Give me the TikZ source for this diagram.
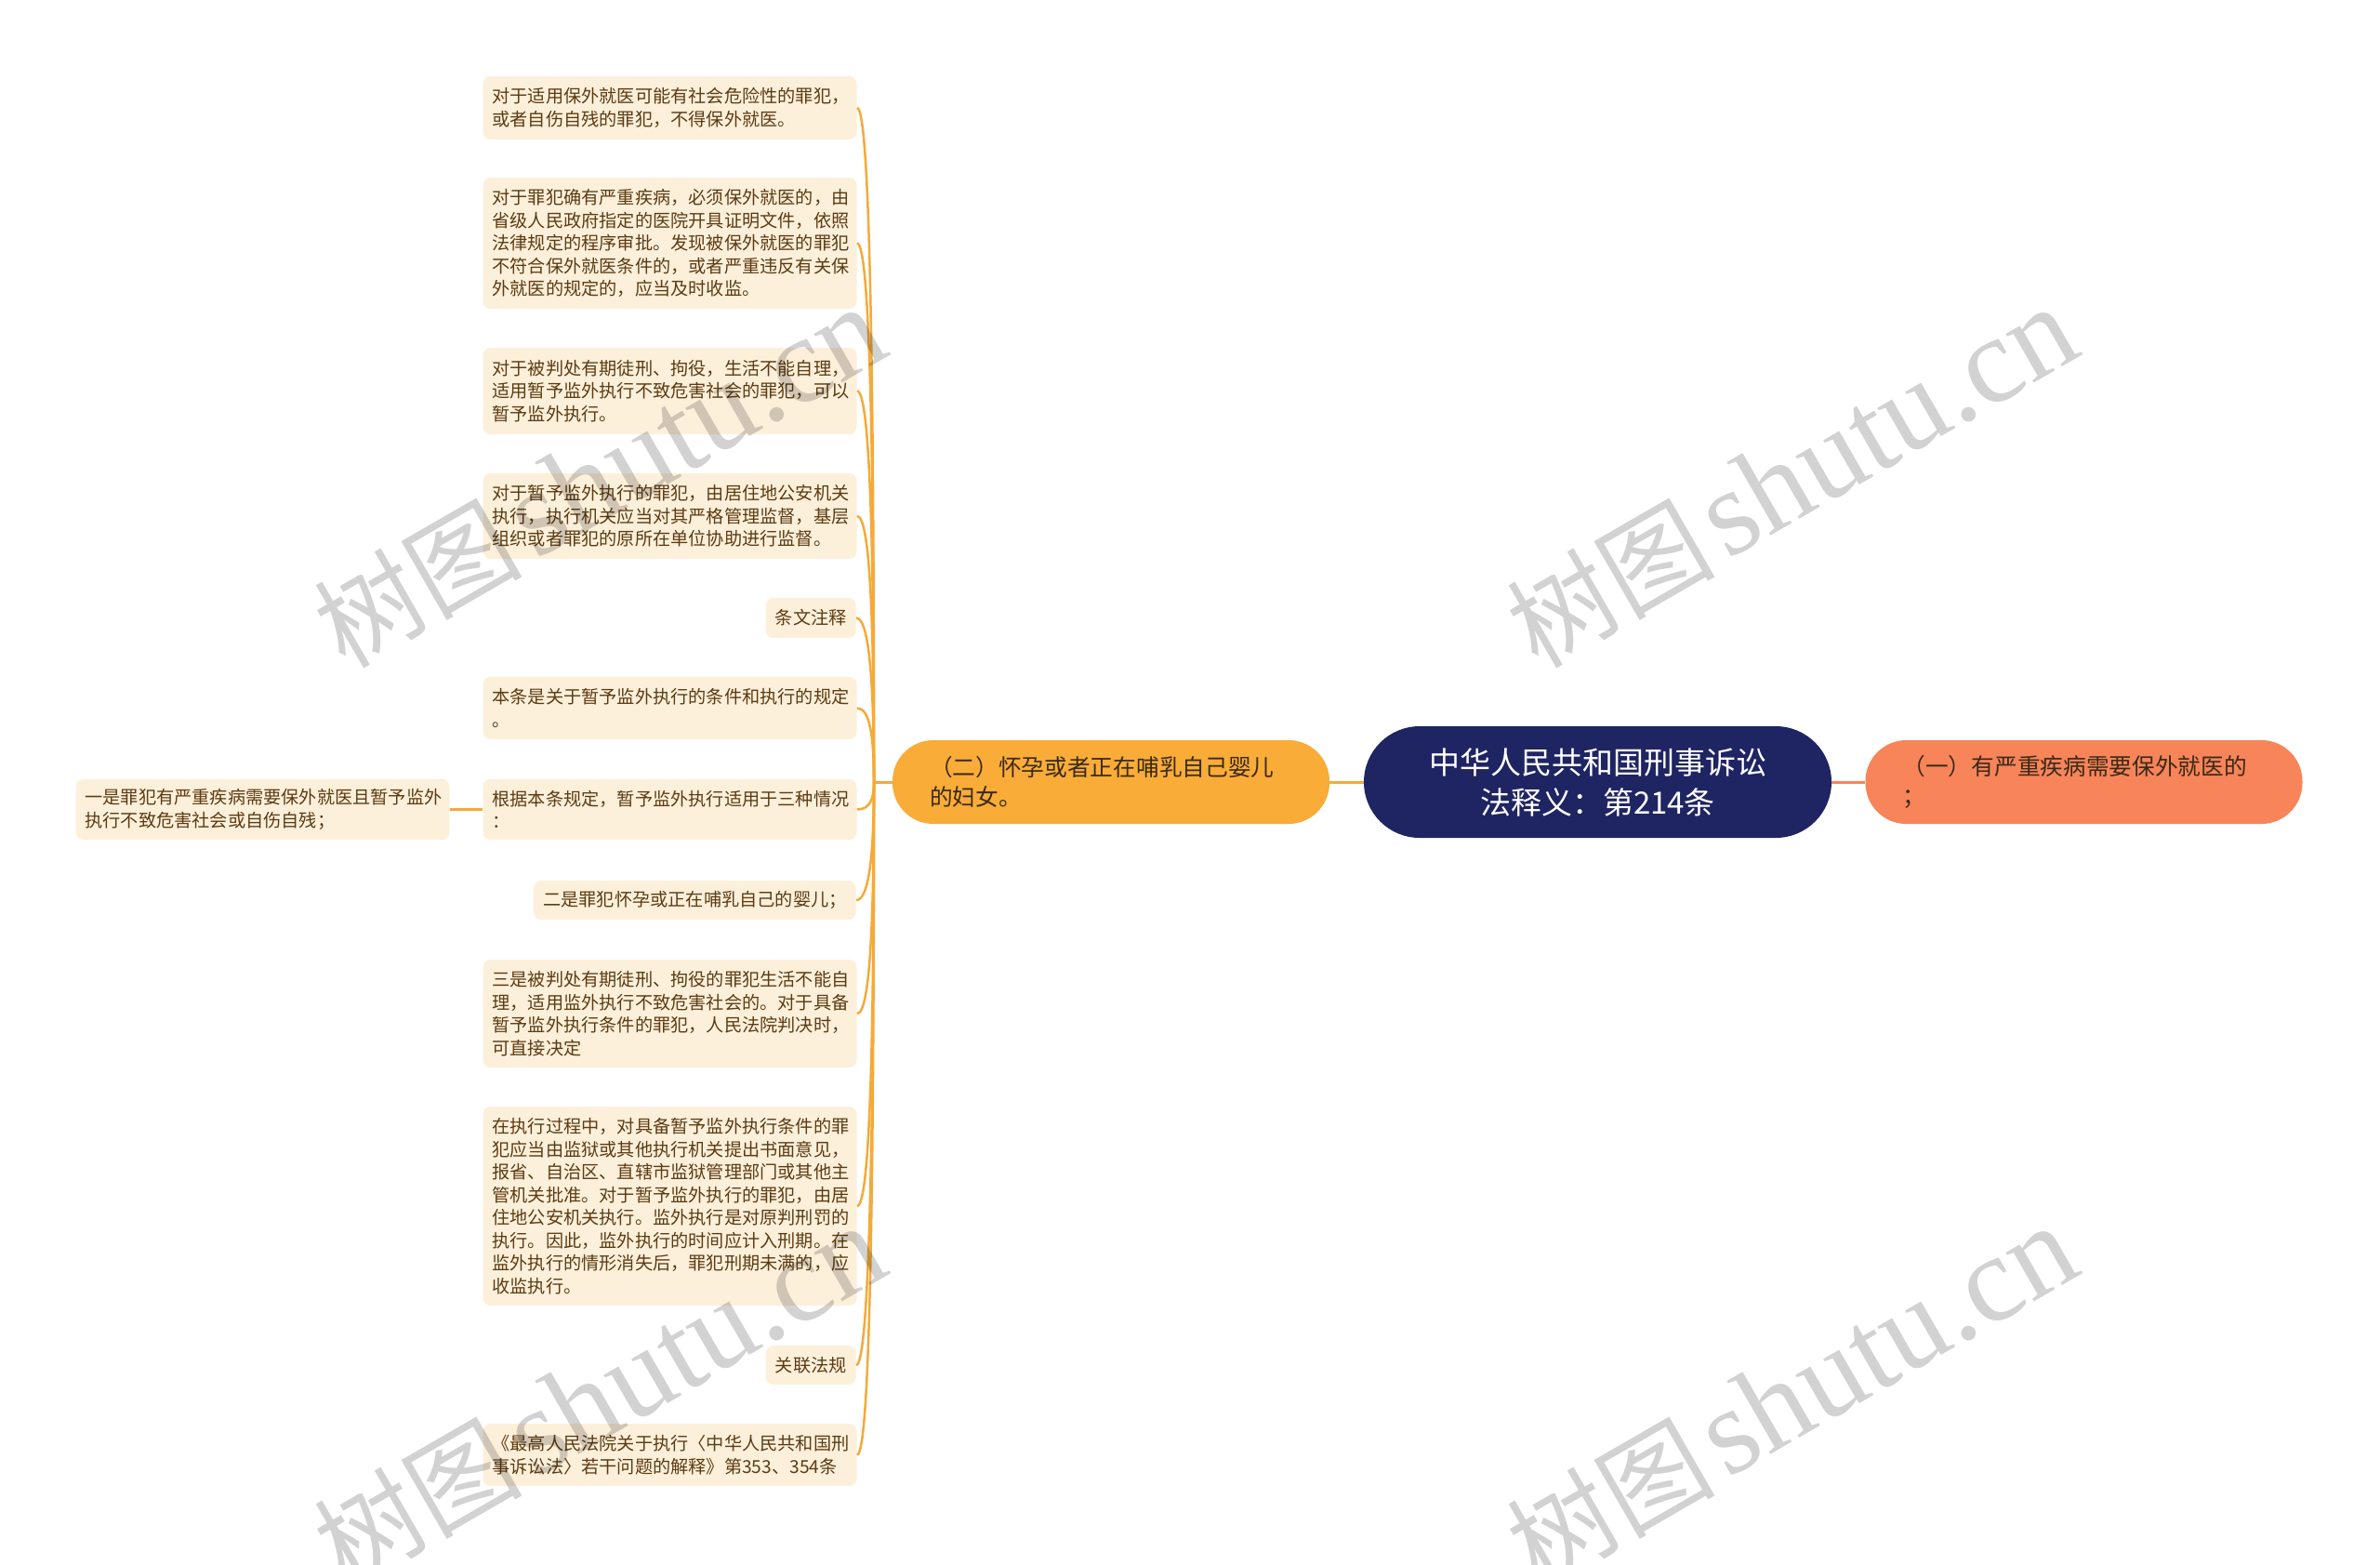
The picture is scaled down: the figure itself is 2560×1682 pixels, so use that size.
\documentclass[tikz,border=0pt]{standalone}
\usepackage{fontspec}
\setmainfont{Noto Sans CJK SC}
\newfontfamily\wmlatin{Liberation Serif}
\definecolor{rootbg}{HTML}{1F2462}
\definecolor{orangebg}{HTML}{F9AC37}
\definecolor{salmonbg}{HTML}{F8845A}
\definecolor{leafbg}{HTML}{FDF0DB}
\definecolor{leaftext}{HTML}{5C3B12}
\definecolor{connc}{HTML}{F4AA3A}
\definecolor{midtext}{HTML}{3A2A18}
\definecolor{wmgray}{HTML}{D2D2D2}
\tikzset{
  leaf/.style={fill=leafbg, text=leaftext, rounded corners=4pt, inner xsep=5pt, inner ysep=0pt,
    align=left, font=\fontsize{9.6pt}{12.25pt}\selectfont},
  wide/.style={text width=191pt},
  branch/.style={rounded corners=22pt, inner xsep=20pt, inner ysep=0pt, minimum height=45pt,
    text width=195pt, align=left, text=midtext, font=\fontsize{12.35pt}{16.3pt}\selectfont},
  rootnode/.style={fill=rootbg, rounded corners=30pt, minimum width=251.5pt, minimum height=60pt,
    text=white, align=center, inner sep=0pt, font=\fontsize{16.5pt}{21.5pt}\selectfont},
  conn/.style={draw=connc, line width=1.25pt},
  wm/.style={text=wmgray, inner sep=0pt}
}
\begin{document}
\begin{tikzpicture}[x=0.5pt,y=-0.5pt]
\useasboundingbox (0,0) rectangle (2560,1682);
\fill[white] (0,0) rectangle (2560,1682);

% root and main branches
\node[rootnode] (root) at (1718.5,841) {中华人民共和国刑事诉讼\\法释义：第214条};
\node[branch, fill=orangebg] (b2) at (1195,841) {（二）怀孕或者正在哺乳自己婴儿\\的妇女。};
\node[branch, fill=salmonbg] (b1) at (2241.5,841) {（一）有严重疾病需要保外就医的\\；};

\draw[draw=connc, line width=1.5pt] (root.west) -- (b2.east);
\draw[draw=salmonbg, line width=1.5pt] (root.east) -- (b1.west);

% leaves
\node[leaf, wide, minimum height=34pt] (l1) at (720.5,116) {对于适用保外就医可能有社会危险性的罪犯，\\或者自伤自残的罪犯，不得保外就医。};
\node[leaf, wide, minimum height=70.5pt] (l2) at (720.5,261.5) {对于罪犯确有严重疾病，必须保外就医的，由\\省级人民政府指定的医院开具证明文件，依照\\法律规定的程序审批。发现被保外就医的罪犯\\不符合保外就医条件的，或者严重违反有关保\\外就医的规定的，应当及时收监。};
\node[leaf, wide, minimum height=46.5pt] (l3) at (720.5,420.5) {对于被判处有期徒刑、拘役，生活不能自理，\\适用暂予监外执行不致危害社会的罪犯，可以\\暂予监外执行。};
\node[leaf, wide, minimum height=46pt] (l4) at (720.5,555) {对于暂予监外执行的罪犯，由居住地公安机关\\执行，执行机关应当对其严格管理监督，基层\\组织或者罪犯的原所在单位协助进行监督。};
\node[leaf, minimum height=21.5pt, anchor=east] (l5) at (921,664.5) {条文注释};
\node[leaf, wide, minimum height=33.5pt] (l6) at (720.5,761.5) {本条是关于暂予监外执行的条件和执行的规定\\。};
\node[leaf, wide, minimum height=32.5pt] (l7) at (720.5,870.5) {根据本条规定，暂予监外执行适用于三种情况\\：};
\node[leaf, wide, minimum height=32.5pt] (l7a) at (282.5,870.5) {一是罪犯有严重疾病需要保外就医且暂予监外\\执行不致危害社会或自伤自残；};
\node[leaf, minimum height=21pt, anchor=east] (l8) at (921,968) {二是罪犯怀孕或正在哺乳自己的婴儿；};
\node[leaf, wide, minimum height=58pt] (l9) at (720.5,1090) {三是被判处有期徒刑、拘役的罪犯生活不能自\\理，适用监外执行不致危害社会的。对于具备\\暂予监外执行条件的罪犯，人民法院判决时，\\可直接决定};
\node[leaf, wide, minimum height=107pt] (l10) at (720.5,1297) {在执行过程中，对具备暂予监外执行条件的罪\\犯应当由监狱或其他执行机关提出书面意见，\\报省、自治区、直辖市监狱管理部门或其他主\\管机关批准。对于暂予监外执行的罪犯，由居\\住地公安机关执行。监外执行是对原判刑罚的\\执行。因此，监外执行的时间应计入刑期。在\\监外执行的情形消失后，罪犯刑期未满的，应\\收监执行。};
\node[leaf, minimum height=21pt, anchor=east] (l11) at (921,1468) {关联法规};
\node[leaf, wide, minimum height=33.5pt] (l12) at (720.5,1564.5) {《最高人民法院关于执行〈中华人民共和国刑\\事诉讼法〉若干问题的解释》第353、354条};

% connectors
\coordinate (hub) at (940,841);
\draw[conn, line width=1.5pt] (b2.west) -- (hub);
\foreach \n/\k in {l1/-435,l2/-348,l3/-252,l4/-172,l5/-106,l6/-48,l7/18,l8/76,l9/149,l10/274,l11/376,l12/434}
  \draw[conn] (\n.east) .. controls +(14,0) and +(0,\k) .. (hub);
\draw[conn, line width=1.5pt] (l7.west) -- (l7a.east);

% watermarks
\begin{scope}[blend mode=multiply]
\foreach \i/\cx/\cy in {1/645/514, 2/1927/514, 3/645/1502, 4/1927/1502}
  \node[wm, rotate=30] (wm\i) at (\cx,\cy) {\fontsize{56pt}{60pt}\selectfont 树图\hspace{6pt}{\wmlatin\fontsize{66pt}{70pt}\selectfont shutu.cn}};
\end{scope}
\end{tikzpicture}
\end{document}
